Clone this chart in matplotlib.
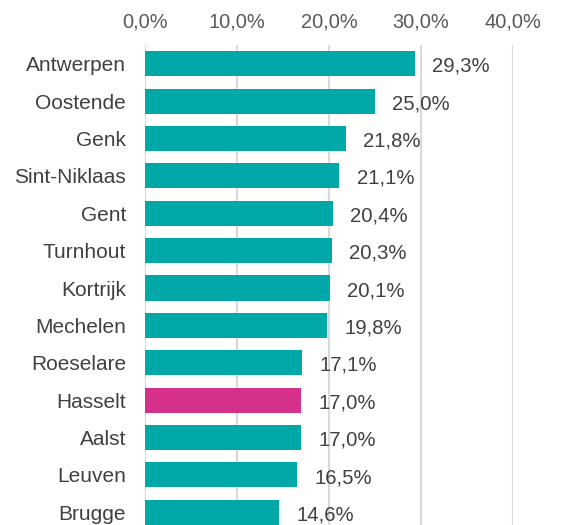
import matplotlib.pyplot as plt
from matplotlib.ticker import FuncFormatter

# Aandeel per centrumstad
steden = ['Antwerpen', 'Oostende', 'Genk', 'Sint-Niklaas', 'Gent', 'Turnhout',
          'Kortrijk', 'Mechelen', 'Roeselare', 'Hasselt', 'Aalst', 'Leuven', 'Brugge']
aandeel = [29.3, 25.0, 21.8, 21.1, 20.4, 20.3, 20.1, 19.8, 17.1, 17.0, 17.0, 16.5, 14.6]
highlight = 'Hasselt'

teal = '#00A9A8'
roze = '#D6318A'
tekst = '#404040'

plt.rcParams['font.family'] = ['Liberation Sans', 'DejaVu Sans']

fig = plt.figure(figsize=(5.61, 5.25), dpi=100)
# rows run past the bottom edge, like the cropped original export
ax = fig.add_axes([145 / 561, -6 / 525, 368 / 561, 486 / 525])

kleuren = [roze if s == highlight else teal for s in steden]
posities = range(len(steden))
ax.barh(posities, aandeel, height=0.67, color=kleuren, zorder=3)

for y, v in zip(posities, aandeel):
    ax.text(v + 1.9, y + 0.07, f'{v:.1f}%'.replace('.', ','), va='center', ha='left',
            fontsize=14.6, color=tekst, zorder=4)

ax.set_xlim(0, 40)
ax.set_ylim(len(steden) - 0.5, -0.5)
ax.set_xticks([0, 10, 20, 30, 40])
ax.xaxis.set_major_formatter(FuncFormatter(lambda x, p: f'{x:.1f}%'.replace('.', ',')))
ax.xaxis.tick_top()
ax.set_yticks(list(posities))
ax.set_yticklabels(steden)
ax.tick_params(axis='x', length=0, pad=10, labelsize=14.4, labelcolor='#595959')
ax.tick_params(axis='y', length=0, pad=13.7, labelsize=15, labelcolor=tekst)

ax.grid(axis='x', color='#D9D9D9', linewidth=1.5, zorder=0)
for s in ax.spines.values():
    s.set_visible(False)

fig.savefig('out.png', dpi=100)
